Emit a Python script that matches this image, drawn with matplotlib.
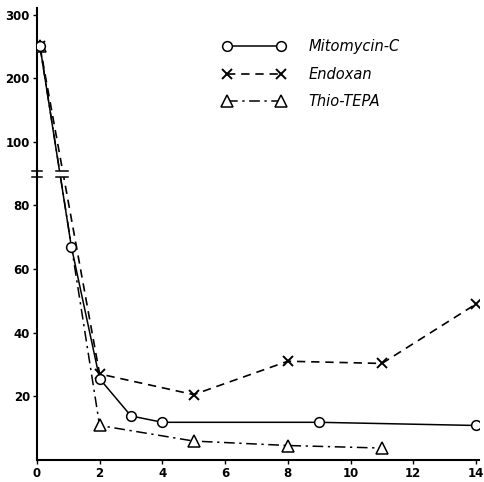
import numpy as np
import matplotlib
matplotlib.use("Agg")
from matplotlib import pyplot as plt
from matplotlib.patches import Rectangle

# data
mito_x = [0.1, 1.1, 2, 3, 4, 9, 14]
mito_y = [250, 67, 25.5, 13.8, 11.8, 11.8, 10.8]

endo_x = [0.1, 2, 5, 8, 11, 14]
endo_y = [250, 27, 20.5, 31, 30.3, 49]

thio_x = [0.1, 2, 5, 8, 11]
thio_y = [250, 10.8, 5.9, 4.5, 3.7]

xticks = [0, 2, 4, 6, 8, 10, 12, 14]
yticks = [20, 40, 60, 80, 100, 200, 300]


# broken y axis: linear up to 100, compressed above
def fwd(y):
    y = np.asarray(y, dtype=float)
    return np.where(y <= 100, y, 100 + (y - 100) * 0.2)


def inv(t):
    t = np.asarray(t, dtype=float)
    return np.where(t <= 100, t, 100 + (t - 100) * 5)


fig = plt.figure(figsize=(4.85, 4.82), dpi=100)
ax = fig.add_axes([0.076, 0.046, 0.912, 0.937])
ax.set_yscale("function", functions=(fwd, inv))

ax.plot(mito_x, mito_y, "k-", marker="o", ms=7, mfc="white", mew=1.1,
        lw=1.1, label="Mitomycin-C", zorder=4)
ax.plot(endo_x, endo_y, "k", ls=(0, (5, 3.5)), marker="x", ms=6.5, mew=1.4,
        lw=1.2, label="Endoxan", zorder=3)
ax.plot(thio_x, thio_y, "k", ls=(0, (7, 3, 1.5, 3)), marker="^", ms=8.5,
        mfc="white", mew=1.1, lw=1.1, label="Thio-TEPA", zorder=3)

ax.set_xlim(0, 14.1)
ax.set_ylim(0, inv(142))
ax.set_xticks(xticks)
ax.set_yticks(yticks)
ax.set_xticklabels([str(v) for v in xticks], fontweight="bold", fontsize=8.5)
ax.set_yticklabels([str(v) for v in yticks], fontweight="bold", fontsize=8.5)
ax.tick_params(direction="out", length=3, width=1, pad=2)
for s in ["top", "right"]:
    ax.spines[s].set_visible(False)
for s in ["left", "bottom"]:
    ax.spines[s].set_linewidth(1.5)

# break marks: gap in the curves, short bars on axis and curves
ax.add_patch(Rectangle((0.45, 88.9), 0.75, 2.0, facecolor="white",
                       edgecolor="none", zorder=5))
for yb in [88.9, 90.9]:
    ax.plot([0.6, 1.0], [yb, yb], "k-", lw=1.1, zorder=6)
    ax.plot([-0.15, 0.15], [yb, yb], "k-", lw=1.1, zorder=6, clip_on=False)

ax.legend(loc="upper left", bbox_to_anchor=(0.39, 0.96), frameon=False,
          numpoints=2, handlelength=4.3, labelspacing=0.85, handletextpad=1.6,
          prop={"style": "italic", "size": 10.5})

fig.savefig("out.png", dpi=100)
